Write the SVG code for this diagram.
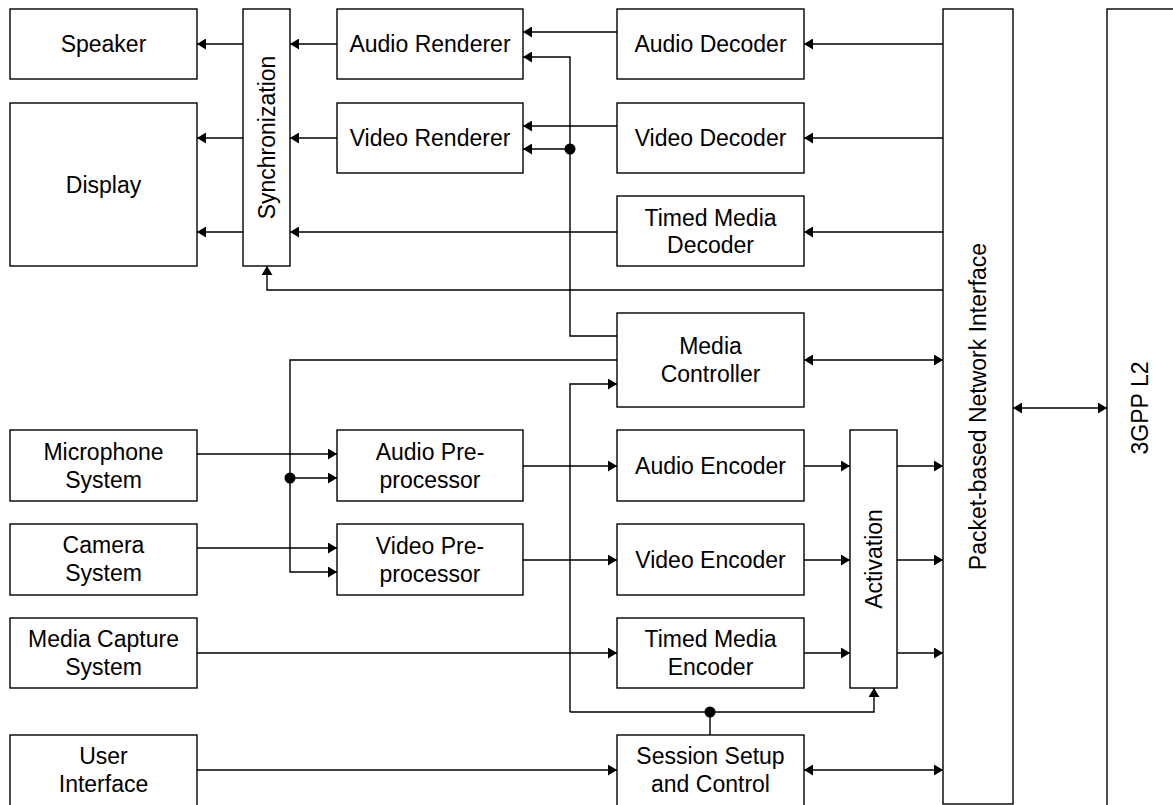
<svg xmlns="http://www.w3.org/2000/svg" width="1173" height="805" viewBox="0 0 1173 805">
<style>
.b{fill:#fff;stroke:#000;stroke-width:1.4}
.t{font-family:"Liberation Sans",Arial,sans-serif;font-size:23px;fill:#000;text-anchor:middle}
.c path{fill:none;stroke:#000;stroke-width:1.4}
.e{marker-end:url(#a)}
.s{marker-start:url(#a)}
</style>
<defs>
<marker id="a" viewBox="0 0 9 11" refX="9" refY="5.5" markerWidth="9" markerHeight="11" markerUnits="userSpaceOnUse" orient="auto-start-reverse">
<path d="M0,0 L9,5.5 L0,11 z" fill="#000"/>
</marker>
</defs>
<rect width="1173" height="805" fill="#fff"/>
<g class="c" id="connectors">
<path class="e" d="M243,44 H197"/>
<path class="e" d="M243,138 H197"/>
<path class="e" d="M243,232 H197"/>
<path class="e" d="M337,44 H290"/>
<path class="e" d="M337,138 H290"/>
<path class="e" d="M617,232 H290"/>
<path class="e" d="M617,32 H523"/>
<path class="e" d="M617,126 H523"/>
<path class="e" d="M943,44 H804"/>
<path class="e" d="M943,138 H804"/>
<path class="e" d="M943,232 H804"/>
<path class="e" d="M943,290 H267 V266"/>
<path class="e" d="M617,336 H570 V57 H523"/>
<path class="e" d="M570,149 H523"/>
<path class="e" d="M617,360 H290 V572 H337"/>
<path class="e" d="M290,478 H337"/>
<path class="e" d="M197,454 H337"/>
<path class="e" d="M197,548 H337"/>
<path class="e" d="M523,466 H617"/>
<path class="e" d="M523,560 H617"/>
<path class="e" d="M197,653 H617"/>
<path class="e" d="M804,466 H850"/>
<path class="e" d="M804,560 H850"/>
<path class="e" d="M804,653 H850"/>
<path class="e" d="M897,466 H943"/>
<path class="e" d="M897,560 H943"/>
<path class="e" d="M897,653 H943"/>
<path class="e s" d="M804,360 H943"/>
<path class="e s" d="M1013,408 H1107"/>
<path d="M710,735 V712"/>
<path class="e" d="M570,712 H874 V688"/>
<path class="e" d="M570,712 V384 H617"/>
<path class="e" d="M197,770 H617"/>
<path class="e s" d="M804,770 H943"/>
<circle cx="570" cy="149" r="5.5" fill="#000"/>
<circle cx="290" cy="478" r="5.5" fill="#000"/>
<circle cx="710" cy="712" r="5.5" fill="#000"/>
</g>
<g id="speaker"><rect class="b" x="10" y="9" width="187" height="70"/><text class="t" x="103.5" y="52">Speaker</text></g>
<g id="display"><rect class="b" x="10" y="103" width="187" height="163"/><text class="t" x="103.5" y="193">Display</text></g>
<g id="synchronization"><rect class="b" x="243" y="9" width="47" height="257"/><text class="t" transform="translate(267,137.5) rotate(-90)" y="8">Synchronization</text></g>
<g id="audio-renderer"><rect class="b" x="337" y="9" width="186" height="70"/><text class="t" x="430" y="52">Audio Renderer</text></g>
<g id="video-renderer"><rect class="b" x="337" y="103" width="186" height="70"/><text class="t" x="430" y="146">Video Renderer</text></g>
<g id="audio-decoder"><rect class="b" x="617" y="9" width="187" height="70"/><text class="t" x="710.5" y="52">Audio Decoder</text></g>
<g id="video-decoder"><rect class="b" x="617" y="103" width="187" height="70"/><text class="t" x="710.5" y="146">Video Decoder</text></g>
<g id="timed-media-decoder"><rect class="b" x="617" y="196" width="187" height="70"/><text class="t" x="710.5" y="226">Timed Media</text><text class="t" x="710.5" y="253">Decoder</text></g>
<g id="media-controller"><rect class="b" x="617" y="313" width="187" height="94"/><text class="t" x="710.5" y="354">Media</text><text class="t" x="710.5" y="382">Controller</text></g>
<g id="microphone-system"><rect class="b" x="10" y="430" width="187" height="71"/><text class="t" x="103.5" y="460">Microphone</text><text class="t" x="103.5" y="488">System</text></g>
<g id="camera-system"><rect class="b" x="10" y="524" width="187" height="71"/><text class="t" x="103.5" y="553">Camera</text><text class="t" x="103.5" y="581">System</text></g>
<g id="media-capture-system"><rect class="b" x="10" y="618" width="187" height="70"/><text class="t" x="103.5" y="647">Media Capture</text><text class="t" x="103.5" y="675">System</text></g>
<g id="user-interface"><rect class="b" x="10" y="735" width="187" height="75"/><text class="t" x="103.5" y="764">User</text><text class="t" x="103.5" y="792">Interface</text></g>
<g id="audio-preprocessor"><rect class="b" x="337" y="430" width="186" height="71"/><text class="t" x="430" y="460">Audio Pre-</text><text class="t" x="430" y="488">processor</text></g>
<g id="video-preprocessor"><rect class="b" x="337" y="524" width="186" height="71"/><text class="t" x="430" y="554">Video Pre-</text><text class="t" x="430" y="582">processor</text></g>
<g id="audio-encoder"><rect class="b" x="617" y="430" width="187" height="71"/><text class="t" x="710.5" y="474">Audio Encoder</text></g>
<g id="video-encoder"><rect class="b" x="617" y="524" width="187" height="71"/><text class="t" x="710.5" y="568">Video Encoder</text></g>
<g id="timed-media-encoder"><rect class="b" x="617" y="618" width="187" height="70"/><text class="t" x="710.5" y="647">Timed Media</text><text class="t" x="710.5" y="675">Encoder</text></g>
<g id="session-setup"><rect class="b" x="617" y="735" width="187" height="75"/><text class="t" x="710.5" y="764">Session Setup</text><text class="t" x="710.5" y="792">and Control</text></g>
<g id="activation"><rect class="b" x="850" y="430" width="47" height="258"/><text class="t" transform="translate(873.5,559) rotate(-90)" y="8">Activation</text></g>
<g id="packet-network-interface"><rect class="b" x="943" y="9" width="70" height="795"/><text class="t" transform="translate(978,406.5) rotate(-90)" y="8">Packet-based Network Interface</text></g>
<g id="gpp-l2"><rect class="b" x="1107" y="9" width="80" height="810"/><text class="t" transform="translate(1140,408) rotate(-90)" y="8">3GPP L2</text></g>
</svg>
